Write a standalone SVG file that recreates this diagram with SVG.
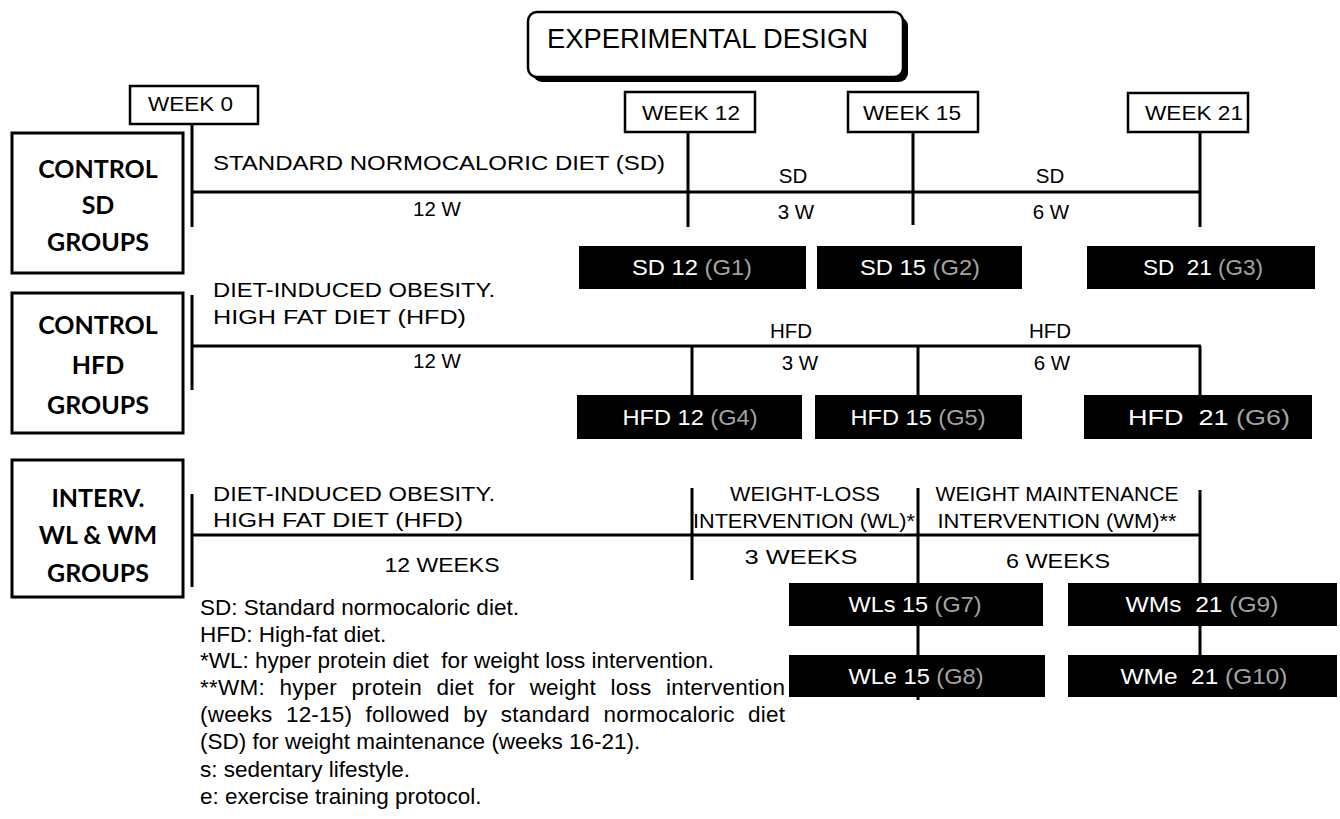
<svg xmlns="http://www.w3.org/2000/svg" width="1340" height="819" viewBox="0 0 1340 819">
<style>
.t{font-family:"Liberation Sans",Arial,sans-serif;font-size:20.5px;fill:#000}
.m{text-anchor:middle}
.lbl{font-family:Lato,"Liberation Sans",sans-serif;font-weight:bold;font-size:25px;text-anchor:middle;fill:#000}
.wk{font-family:"Liberation Sans",Arial,sans-serif;font-size:21px;text-anchor:middle;fill:#000}
.wb{fill:#fff;stroke:#000;stroke-width:2.5}
.gb{fill:#fff;stroke:#000;stroke-width:3}
.bk{fill:#000}
.bt{font-family:"Liberation Sans",Arial,sans-serif;font-size:22px;text-anchor:middle;fill:#fff}
.g{fill:#a3a3a3}
.ln{stroke:#000;stroke-width:3;fill:none}
.lg{font-family:"Liberation Sans",Arial,sans-serif;font-size:22.5px;fill:#000}
</style>

<g id="title">
<rect x="533" y="17" width="375" height="65" rx="9" fill="#000"/>
<rect x="528" y="12" width="375" height="65" rx="9" fill="#fff" stroke="#000" stroke-width="2.5"/>
<text class="t" x="547" y="48" style="font-size:27px" textLength="321" lengthAdjust="spacingAndGlyphs">EXPERIMENTAL DESIGN</text>
</g>

<g id="connectors">
<path class="ln" d="M192 124V227M192 192H1201M688 132V227M913 132V225M1200 132V227"/>
<path class="ln" d="M192 295V390M192 346H1201M692 346V395M918 346V395M1200 346V395"/>
<path class="ln" d="M192 494V587M192 535H1200M692 488V580M918 488V700M1200 490V655"/>
</g>

<g id="week0"><rect class="wb" x="130" y="86" width="128" height="38"/><text class="wk" x="190.5" y="111" textLength="85" lengthAdjust="spacingAndGlyphs">WEEK 0</text></g>
<g id="week12"><rect class="wb" x="625" y="92" width="130" height="40"/><text class="wk" x="691" y="120" textLength="98" lengthAdjust="spacingAndGlyphs">WEEK 12</text></g>
<g id="week15"><rect class="wb" x="848" y="92" width="130" height="40"/><text class="wk" x="912" y="120" textLength="98" lengthAdjust="spacingAndGlyphs">WEEK 15</text></g>
<g id="week21"><rect class="wb" x="1128" y="93" width="120" height="39"/><text class="wk" x="1194" y="120" textLength="98" lengthAdjust="spacingAndGlyphs">WEEK 21</text></g>

<g id="control-sd">
<rect class="gb" x="12" y="133" width="171" height="140"/>
<text class="lbl" x="98" y="178">CONTROL</text>
<text class="lbl" x="98" y="214">SD</text>
<text class="lbl" x="98" y="251">GROUPS</text>
</g>
<g id="control-hfd">
<rect class="gb" x="12" y="293" width="171" height="140"/>
<text class="lbl" x="98" y="334">CONTROL</text>
<text class="lbl" x="98" y="374">HFD</text>
<text class="lbl" x="98" y="414">GROUPS</text>
</g>
<g id="interv">
<rect class="gb" x="12" y="460" width="171" height="137"/>
<text class="lbl" x="98" y="507">INTERV.</text>
<text class="lbl" x="98" y="544">WL &amp; WM</text>
<text class="lbl" x="98" y="582">GROUPS</text>
</g>

<g id="row1-labels">
<text class="t" x="213" y="170" textLength="452" lengthAdjust="spacingAndGlyphs">STANDARD NORMOCALORIC DIET (SD)</text>
<text class="t m" x="437" y="216">12 W</text>
<text class="t m" x="793" y="183">SD</text>
<text class="t m" x="796" y="219">3 W</text>
<text class="t m" x="1050" y="183">SD</text>
<text class="t m" x="1051" y="219">6 W</text>
</g>
<g id="row2-labels">
<text class="t" x="213" y="297" textLength="282" lengthAdjust="spacingAndGlyphs">DIET-INDUCED OBESITY.</text>
<text class="t" x="213" y="324" textLength="253" lengthAdjust="spacingAndGlyphs">HIGH FAT DIET (HFD)</text>
<text class="t m" x="437" y="368">12 W</text>
<text class="t m" x="791" y="338">HFD</text>
<text class="t m" x="1050" y="338">HFD</text>
<text class="t m" x="800" y="370">3 W</text>
<text class="t m" x="1052" y="370">6 W</text>
</g>
<g id="row3-labels">
<text class="t" x="213" y="501" textLength="282" lengthAdjust="spacingAndGlyphs">DIET-INDUCED OBESITY.</text>
<text class="t" x="213" y="527" textLength="250" lengthAdjust="spacingAndGlyphs">HIGH FAT DIET (HFD)</text>
<text class="t m" x="442" y="572" textLength="115" lengthAdjust="spacingAndGlyphs">12 WEEKS</text>
<text class="t m" x="805" y="501" textLength="150" lengthAdjust="spacingAndGlyphs">WEIGHT-LOSS</text>
<text class="t m" x="804" y="528" textLength="222" lengthAdjust="spacingAndGlyphs">INTERVENTION (WL)*</text>
<text class="t m" x="801" y="564" textLength="113" lengthAdjust="spacingAndGlyphs">3 WEEKS</text>
<text class="t m" x="1057" y="501" textLength="243" lengthAdjust="spacingAndGlyphs">WEIGHT MAINTENANCE</text>
<text class="t m" x="1057" y="528" textLength="239" lengthAdjust="spacingAndGlyphs">INTERVENTION (WM)**</text>
<text class="t m" x="1058" y="568" textLength="104" lengthAdjust="spacingAndGlyphs">6 WEEKS</text>
</g>

<g id="g1"><rect class="bk" x="579" y="246" width="227" height="43"/><text class="bt" x="692" y="275" textLength="120" lengthAdjust="spacingAndGlyphs">SD 12 <tspan class="g">(G1)</tspan></text></g>
<g id="g2"><rect class="bk" x="817" y="246" width="205" height="43"/><text class="bt" x="920" y="275" textLength="120" lengthAdjust="spacingAndGlyphs">SD 15 <tspan class="g">(G2)</tspan></text></g>
<g id="g3"><rect class="bk" x="1087" y="246" width="228" height="43"/><text class="bt" x="1203" y="275" textLength="120" lengthAdjust="spacingAndGlyphs" xml:space="preserve">SD  21 <tspan class="g">(G3)</tspan></text></g>

<g id="g4"><rect class="bk" x="577" y="395" width="225" height="44"/><text class="bt" x="690" y="425" textLength="135" lengthAdjust="spacingAndGlyphs">HFD 12 <tspan class="g">(G4)</tspan></text></g>
<g id="g5"><rect class="bk" x="815" y="395" width="207" height="44"/><text class="bt" x="918" y="425" textLength="135" lengthAdjust="spacingAndGlyphs">HFD 15 <tspan class="g">(G5)</tspan></text></g>
<g id="g6"><rect class="bk" x="1084" y="395" width="228" height="44"/><text class="bt" x="1209" y="425" textLength="162" lengthAdjust="spacingAndGlyphs" xml:space="preserve">HFD  21 <tspan class="g">(G6)</tspan></text></g>

<g id="g7"><rect class="bk" x="789" y="583" width="254" height="43"/><text class="bt" x="915" y="612" textLength="133" lengthAdjust="spacingAndGlyphs">WLs 15 <tspan class="g">(G7)</tspan></text></g>
<g id="g8"><rect class="bk" x="789" y="655" width="256" height="42"/><text class="bt" x="916" y="684" textLength="135" lengthAdjust="spacingAndGlyphs">WLe 15 <tspan class="g">(G8)</tspan></text></g>
<g id="g9"><rect class="bk" x="1068" y="583" width="269" height="43"/><text class="bt" x="1202" y="612" textLength="153" lengthAdjust="spacingAndGlyphs" xml:space="preserve">WMs  21 <tspan class="g">(G9)</tspan></text></g>
<g id="g10"><rect class="bk" x="1068" y="655" width="269" height="42"/><text class="bt" x="1204" y="684" textLength="167" lengthAdjust="spacingAndGlyphs" xml:space="preserve">WMe  21 <tspan class="g">(G10)</tspan></text></g>

<g id="legend">
<text class="lg" x="200" y="615">SD: Standard normocaloric diet.</text>
<text class="lg" x="200" y="642">HFD: High-fat diet.</text>
<text class="lg" x="200" y="668" xml:space="preserve">*WL: hyper protein diet  for weight loss intervention.</text>
<text class="lg" x="200" y="695" textLength="585" lengthAdjust="spacing" style="word-spacing:8px">**WM: hyper protein diet for weight loss intervention</text>
<text class="lg" x="200" y="722" textLength="585" lengthAdjust="spacing" style="word-spacing:7px">(weeks 12-15) followed by standard normocaloric diet</text>
<text class="lg" x="200" y="749">(SD) for weight maintenance (weeks 16-21).</text>
<text class="lg" x="200" y="777">s: sedentary lifestyle.</text>
<text class="lg" x="200" y="804">e: exercise training protocol.</text>
</g>
</svg>
